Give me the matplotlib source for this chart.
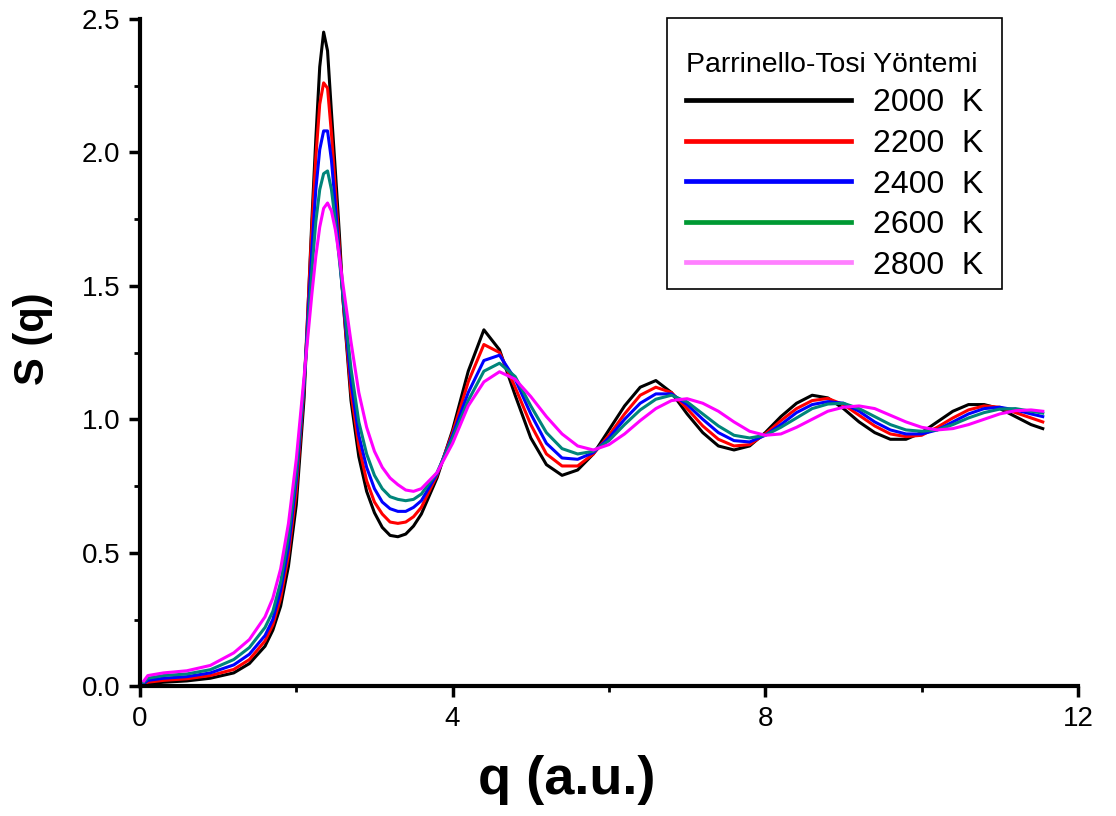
import matplotlib
matplotlib.use("Agg")
import matplotlib.pyplot as plt
from matplotlib.lines import Line2D
from matplotlib.patches import Rectangle
from matplotlib.ticker import MultipleLocator

plt.rcParams['font.family'] = ['Liberation Sans', 'DejaVu Sans']

# q grid (a.u.)
q = [0.05, 0.1, 0.3, 0.6, 0.9, 1.2, 1.4, 1.6, 1.7, 1.8,
     1.9, 2.0, 2.1, 2.2, 2.25, 2.3, 2.35, 2.4, 2.45, 2.5,
     2.55, 2.6, 2.7, 2.8, 2.9, 3.0, 3.1, 3.2, 3.3, 3.4,
     3.5, 3.6, 3.8, 4.0, 4.2, 4.4, 4.6, 4.8, 5.0, 5.2,
     5.4, 5.6, 5.8, 6.0, 6.2, 6.4, 6.6, 6.8, 7.0, 7.2,
     7.4, 7.6, 7.8, 8.0, 8.2, 8.4, 8.6, 8.8, 9.0, 9.2,
     9.4, 9.6, 9.8, 10.0, 10.2, 10.4, 10.6, 10.8, 11.0, 11.2,
     11.4, 11.55]

s_2000 = [0.0, 0.01, 0.015, 0.02, 0.03, 0.05, 0.085, 0.15, 0.21, 0.30,
          0.45, 0.68, 1.08, 1.75, 2.05, 2.32, 2.45, 2.38, 2.15, 1.93,
          1.70, 1.44, 1.07, 0.86, 0.73, 0.65, 0.595, 0.565, 0.56, 0.57,
          0.60, 0.645, 0.78, 0.96, 1.18, 1.335, 1.26, 1.09, 0.93, 0.83,
          0.79, 0.81, 0.87, 0.96, 1.05, 1.12, 1.145, 1.10, 1.02, 0.95,
          0.90, 0.885, 0.90, 0.95, 1.01, 1.06, 1.09, 1.08, 1.04, 0.99,
          0.95, 0.925, 0.925, 0.95, 0.99, 1.03, 1.055, 1.055, 1.04, 1.01,
          0.98, 0.965]

s_2200 = [0.005, 0.015, 0.022, 0.028, 0.04, 0.063, 0.10, 0.17, 0.23, 0.33,
          0.49, 0.73, 1.12, 1.72, 1.98, 2.18, 2.26, 2.24, 2.07, 1.86,
          1.65, 1.44, 1.10, 0.90, 0.77, 0.69, 0.645, 0.615, 0.61, 0.615,
          0.635, 0.67, 0.79, 0.95, 1.14, 1.28, 1.25, 1.12, 0.98, 0.87,
          0.825, 0.825, 0.87, 0.94, 1.02, 1.09, 1.12, 1.10, 1.04, 0.975,
          0.925, 0.90, 0.905, 0.945, 0.995, 1.04, 1.07, 1.078, 1.055, 1.015,
          0.975, 0.945, 0.935, 0.94, 0.97, 1.005, 1.035, 1.05, 1.045, 1.025,
          1.005, 0.99]

s_2400 = [0.01, 0.022, 0.03, 0.036, 0.05, 0.08, 0.12, 0.19, 0.25, 0.36,
          0.52, 0.77, 1.13, 1.64, 1.86, 2.01, 2.08, 2.08, 1.97, 1.80,
          1.62, 1.45, 1.14, 0.94, 0.82, 0.74, 0.69, 0.665, 0.655, 0.655,
          0.67, 0.695, 0.795, 0.94, 1.10, 1.22, 1.24, 1.15, 1.02, 0.91,
          0.855, 0.85, 0.875, 0.93, 1.00, 1.06, 1.095, 1.095, 1.055, 1.00,
          0.95, 0.92, 0.915, 0.94, 0.98, 1.025, 1.055, 1.066, 1.06, 1.03,
          0.99, 0.96, 0.945, 0.945, 0.96, 0.99, 1.02, 1.04, 1.045, 1.035,
          1.02, 1.01]

s_2600 = [0.015, 0.03, 0.04, 0.046, 0.062, 0.10, 0.145, 0.22, 0.28, 0.39,
          0.56, 0.80, 1.14, 1.56, 1.74, 1.86, 1.92, 1.93, 1.86, 1.74,
          1.60, 1.46, 1.19, 0.99, 0.87, 0.79, 0.74, 0.71, 0.70, 0.695,
          0.70, 0.72, 0.80, 0.93, 1.07, 1.18, 1.21, 1.16, 1.05, 0.95,
          0.89, 0.87, 0.88, 0.92, 0.98, 1.035, 1.075, 1.09, 1.065, 1.02,
          0.975, 0.94, 0.93, 0.94, 0.97, 1.005, 1.04, 1.057, 1.06, 1.04,
          1.01, 0.98, 0.96, 0.955, 0.96, 0.98, 1.005, 1.025, 1.038, 1.04,
          1.03, 1.023]

s_2800 = [0.02, 0.04, 0.05, 0.058, 0.078, 0.125, 0.175, 0.26, 0.33, 0.44,
          0.61, 0.85, 1.16, 1.47, 1.61, 1.72, 1.79, 1.81, 1.78, 1.71,
          1.61, 1.50, 1.29, 1.10, 0.97, 0.88, 0.82, 0.78, 0.755, 0.735,
          0.73, 0.74, 0.80, 0.91, 1.05, 1.14, 1.178, 1.15, 1.085, 1.01,
          0.945, 0.90, 0.885, 0.905, 0.945, 0.995, 1.04, 1.07, 1.077, 1.06,
          1.03, 0.99, 0.955, 0.94, 0.945, 0.97, 1.00, 1.03, 1.045, 1.05,
          1.04, 1.015, 0.99, 0.97, 0.96, 0.965, 0.98, 1.00, 1.02, 1.032,
          1.035, 1.03]

labels = ["2000  K", "2200  K", "2400  K", "2600  K", "2800  K"]
series = [s_2000, s_2200, s_2400, s_2600, s_2800]
line_colors = ["#000000", "#FF0000", "#0000FF", "#00857A", "#FF00FF"]
legend_colors = ["#000000", "#FF0000", "#0000FF", "#009933", "#FF80FF"]

fig = plt.figure(figsize=(11.16, 8.16), dpi=100)
ax = fig.add_axes([0.1254, 0.159, 0.8405, 0.818])

for s, c in zip(series, line_colors):
    ax.plot(q, s, color=c, lw=2.2)

ax.set_xlim(0, 12)
ax.set_ylim(0, 2.5)
ax.xaxis.set_major_locator(MultipleLocator(4))
ax.xaxis.set_minor_locator(MultipleLocator(2))
ax.yaxis.set_major_locator(MultipleLocator(0.5))
ax.yaxis.set_minor_locator(MultipleLocator(0.25))
ax.xaxis.set_major_formatter(plt.FuncFormatter(lambda v, p: "%d" % v))
ax.yaxis.set_major_formatter(plt.FuncFormatter(lambda v, p: "%.1f" % v))

for side in ["top", "right"]:
    ax.spines[side].set_visible(False)
for side in ["left", "bottom"]:
    ax.spines[side].set_linewidth(3)

ax.tick_params(which="major", direction="out", length=8, width=2.5,
               labelsize=20, pad=6, colors="black")
ax.tick_params(which="minor", direction="out", length=4, width=2)

ax.set_xlabel("q (a.u.)", fontsize=39, fontweight="bold")
ax.set_ylabel("S (q)", fontsize=30, fontweight="bold")
ax.xaxis.set_label_coords(0.455, -0.103)
ax.yaxis.set_label_coords(-0.093, 0.52)

handles = [Line2D([], [], color=c, lw=3.4) for c in legend_colors]
leg = ax.legend(handles, labels, title="Parrinello-Tosi Yöntemi",
                loc="upper left", bbox_to_anchor=(0.562, 0.979),
                borderaxespad=0, fontsize=23, title_fontsize=20.4,
                handlelength=5.15, handletextpad=0.68, labelspacing=0.33,
                frameon=False, alignment="left", borderpad=0.6)

# frame drawn by hand: more room above the title, less below the last entry
fig.canvas.draw()
bb = leg.get_window_extent()
W, H = fig.bbox.width, fig.bbox.height
top = bb.y1 + 15
bottom = bb.y0 + 11
fig.add_artist(Rectangle((bb.x0 / W, bottom / H), bb.width / W, (top - bottom) / H,
                         transform=fig.transFigure, fill=False,
                         edgecolor="black", lw=1.2))

fig.savefig("out.png", dpi=100)
